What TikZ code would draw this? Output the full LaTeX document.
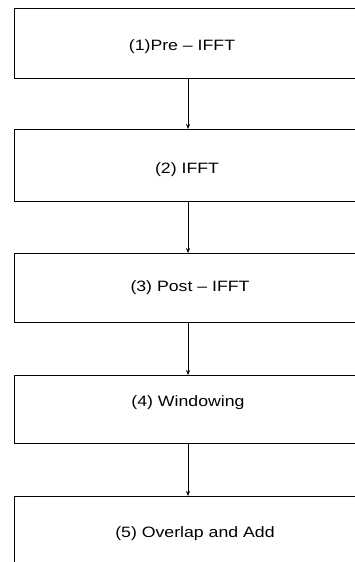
\documentclass[tikz,border=0pt]{standalone}
\usepackage{fontspec}
\setmainfont{Liberation Sans}[FakeStretch=1.18]
\usetikzlibrary{arrows.meta}
\tikzset{
  box/.style={draw=black, line width=0.9pt, rectangle, anchor=north west, inner sep=0pt, minimum width=380pt},
  lbl/.style={font=\fontsize{15}{18}\selectfont, inner sep=0pt, anchor=center},
  arr/.style={draw=black, line width=0.6pt, -{Stealth[length=5pt,width=4pt]}}
}
\begin{document}
\begin{tikzpicture}[x=1pt,y=-1pt]
\useasboundingbox (0,0) rectangle (355,562);
\clip (0,0) rectangle (355,562);
\node[box, minimum height=70pt] (b1) at (14,8) {};
\node[box, minimum height=72pt] (b2) at (14,129) {};
\node[box, minimum height=69pt] (b3) at (14,253) {};
\node[box, minimum height=68pt] (b4) at (14,375) {};
\node[box, minimum height=120pt] (b5) at (14,496) {};
\node[lbl] (t1) at (182,47) {(1)Pre – IFFT};
\node[lbl] (t2) at (187,170) {(2) IFFT};
\node[lbl] (t3) at (190,288) {(3) Post – IFFT};
\node[lbl] (t4) at (188,403) {(4) Windowing};
\node[lbl] (t5) at (195,534) {(5) Overlap and Add};
\coordinate (ax) at (188,0);
\draw[arr] (ax |- b1.south) -- (ax |- b2.north);
\draw[arr] (ax |- b2.south) -- (ax |- b3.north);
\draw[arr] (ax |- b3.south) -- (ax |- b4.north);
\draw[arr] (ax |- b4.south) -- (ax |- b5.north);
\end{tikzpicture}
\end{document}
